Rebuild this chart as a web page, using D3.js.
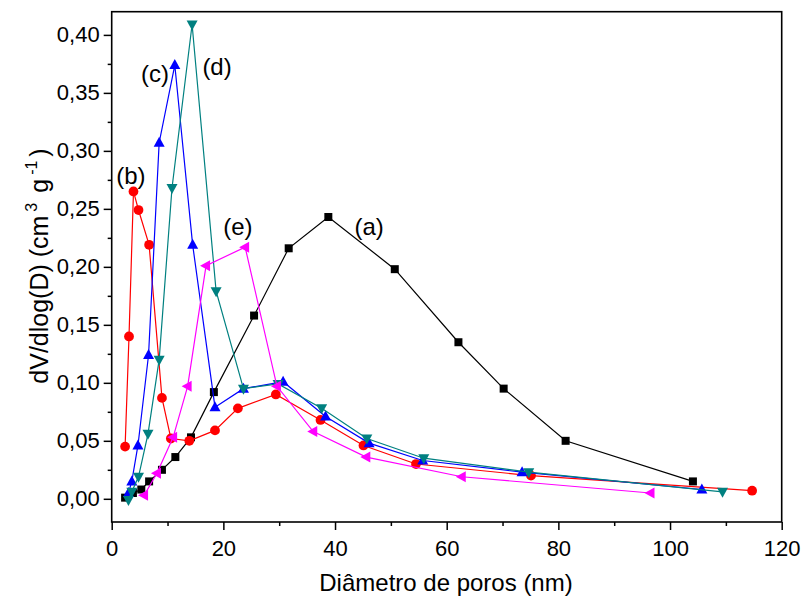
<!DOCTYPE html>
<html><head><meta charset="utf-8">
<script src="https://cdn.jsdelivr.net/npm/d3@7"></script>
<style>body{margin:0;background:#fff}svg{display:block}text{font-family:"Liberation Sans",Arial,sans-serif}</style>
</head><body>
<svg id="c" width="801" height="601"></svg>
<script>
const aX=[2.4,3.8,5.3,6.7,9.0,11.4,14.2,18.3,25.5,31.7,38.8,50.7,62.1,70.2,81.3,104.1];
const aY=[0.001,0.005,0.008,0.015,0.025,0.036,0.053,0.092,0.158,0.216,0.243,0.198,0.135,0.095,0.050,0.015];
const bX=[2.4,3.1,3.9,4.8,6.7,9.0,10.6,13.9,18.5,22.6,29.4,37.4,45.1,54.5,75.1,114.7];
const bY=[0.045,0.140,0.265,0.249,0.219,0.087,0.052,0.050,0.059,0.078,0.090,0.068,0.046,0.030,0.020,0.007];
const cX=[3.0,3.6,4.7,6.6,8.5,11.3,14.5,18.5,23.6,30.7,38.3,46.1,55.7,73.5,105.7];
const cY=[0.005,0.015,0.046,0.124,0.307,0.374,0.219,0.079,0.095,0.101,0.071,0.048,0.033,0.023,0.008];
const dX=[3.0,3.6,4.8,6.5,8.5,10.8,14.4,18.7,23.6,29.8,37.6,45.7,55.9,74.7,109.4];
const dY=[-0.001,0.006,0.019,0.056,0.120,0.268,0.409,0.179,0.095,0.099,0.078,0.052,0.035,0.023,0.006];
const eX=[5.8,8.1,11.0,13.6,16.9,23.9,29.6,36.1,45.6,62.7,96.5];
const eY=[0.003,0.022,0.053,0.097,0.201,0.217,0.097,0.058,0.036,0.019,0.005];
const xTicks=[0,20,40,60,80,100,120];
const yTicks=[0,0.05,0.10,0.15,0.20,0.25,0.30,0.35,0.40];
const labels=[["(a)",46.1,0.2273],["(b)",3.45,0.2717],["(c)",7.76,0.3592],["(d)",18.87,0.3653],["(e)",22.6,0.2273]];

const svg=d3.select("#c");
const L=111.7,R=781.7,T=11.7,B=522;
const x=d3.scaleLinear().domain([0,120]).range([L,R]);
const y=d3.scaleLinear().domain([-0.02,0.42]).range([B,T]);

const series=[
 {xs:aX,ys:aY,color:"#000000",shape:"square"},
 {xs:bX,ys:bY,color:"#ff0000",shape:"circle"},
 {xs:cX,ys:cY,color:"#0000ff",shape:"up"},
 {xs:dX,ys:dY,color:"#008080",shape:"down"},
 {xs:eX,ys:eY,color:"#ff00ff",shape:"left"}
];
const line=d3.line().x(d=>x(d[0])).y(d=>y(d[1]));
function markerPath(shape){
  if(shape==="square") return "M-4,-4H4V4H-4Z";
  if(shape==="circle") return d3.symbol(d3.symbolCircle,75)();
  if(shape==="up") return "M0,-6L5.5,4L-5.5,4Z";
  if(shape==="down") return "M0,6L5.5,-4L-5.5,-4Z";
  if(shape==="left") return "M-6,0L4,-5.5L4,5.5Z";
}
series.forEach(s=>{
  const pts=s.xs.map((v,i)=>[v,s.ys[i]]);
  const g=svg.append("g");
  g.append("path").attr("d",line(pts)).attr("fill","none").attr("stroke",s.color).attr("stroke-width",1.2);
  g.selectAll("path.m").data(pts).enter().append("path").attr("class","m")
   .attr("d",markerPath(s.shape)).attr("transform",d=>`translate(${x(d[0])},${y(d[1])})`)
   .attr("fill",s.color);
});

// frame
svg.append("rect").attr("x",L).attr("y",T).attr("width",R-L).attr("height",B-T)
  .attr("fill","none").attr("stroke","#000").attr("stroke-width",1.6);

// x axis
const xa=d3.axisBottom(x).tickValues(xTicks).tickSize(8).tickPadding(10).tickFormat(d3.format("d"));
const gx=svg.append("g").attr("transform",`translate(0,${B})`).call(xa);
gx.select(".domain").remove();
gx.selectAll("line").attr("stroke-width",1.5);
gx.selectAll("text").attr("font-size",22).attr("fill","#000").attr("font-family","Liberation Sans, Arial, sans-serif");
const xm=d3.axisBottom(x).tickValues(d3.range(10,120,20)).tickSize(4).tickFormat("");
const gxm=svg.append("g").attr("transform",`translate(0,${B})`).call(xm);
gxm.select(".domain").remove(); gxm.selectAll("line").attr("stroke-width",1.5);

// y axis
const ya=d3.axisLeft(y).tickValues(yTicks).tickSize(8).tickPadding(4).tickFormat(d=>d.toFixed(2).replace(".",","));
const gy=svg.append("g").attr("transform",`translate(${L},0)`).call(ya);
gy.select(".domain").remove();
gy.selectAll("line").attr("stroke-width",1.5);
gy.selectAll("text").attr("font-size",22).attr("fill","#000").attr("font-family","Liberation Sans, Arial, sans-serif");
const ym=d3.axisLeft(y).tickValues(d3.range(0.025,0.42,0.05)).tickSize(4).tickFormat("");
const gym=svg.append("g").attr("transform",`translate(${L},0)`).call(ym);
gym.select(".domain").remove(); gym.selectAll("line").attr("stroke-width",1.5);

// titles
svg.append("text").attr("x",446).attr("y",591).attr("text-anchor","middle")
  .attr("font-size",24).text("Diâmetro de poros (nm)");
const yt=svg.append("text").attr("transform","translate(48,266) rotate(-90)").attr("text-anchor","middle").attr("font-size",25);
yt.append("tspan").text("dV/dlog(D) (cm");
yt.append("tspan").attr("font-size",16).attr("dy",-11).attr("dx",4).text("3");
yt.append("tspan").attr("dy",11).attr("dx",3).text(" g");
yt.append("tspan").attr("font-size",16).attr("dy",-11).attr("dx",4).text("-1");
yt.append("tspan").attr("dy",11).attr("dx",4).text(")");

// series labels
svg.selectAll("text.lab").data(labels).enter().append("text").attr("class","lab")
  .attr("x",d=>x(d[1])).attr("y",d=>y(d[2])).attr("text-anchor","middle").attr("font-size",24).text(d=>d[0]);
</script>
</body></html>
